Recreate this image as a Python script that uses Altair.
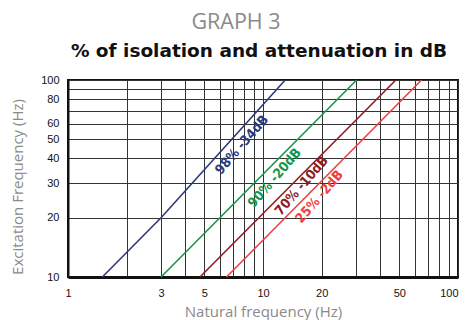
import altair as alt
import pandas as pd

# ---- data ----
series = ["98% -34dB", "90% -20dB", "70% -10dB", "25% -2dB"]
colors = ["#2B3A7C", "#14954C", "#8E1B1F", "#EF4040"]

nat_98 = [1.5, 3.0, 13.0]
exc_98 = [10, 20, 100]
nat_90 = [3.0, 30.2]
exc_90 = [10, 100]
nat_70 = [4.75, 48.0]
exc_70 = [10, 100]
nat_25 = [6.5, 65.0]
exc_25 = [10, 100]

label_nat = [7.8, 11.5, 15.8, 19.5]
label_exc = [46.8, 31.8, 29.0, 25.5]

x_grid = [1, 2, 3, 4, 5, 6, 7, 8, 9, 10, 20, 30, 40, 50, 60, 70, 80, 90, 100]
x_labels = [1, 3, 5, 10, 20, 50, 100]
y_grid = [10, 20, 30, 40, 50, 60, 70, 80, 90, 100]
y_labels = [10, 20, 30, 40, 50, 60, 80, 100]

title_text = "GRAPH 3"
subtitle_text = "% of isolation and attenuation in dB"

rows = []
for name, xs, ys in zip(series, [nat_98, nat_90, nat_70, nat_25], [exc_98, exc_90, exc_70, exc_25]):
    for i, (a, b) in enumerate(zip(xs, ys)):
        rows.append({"series": name, "nat": a, "exc": b, "order": i})
lines_df = pd.DataFrame(rows)
labels_df = pd.DataFrame({"series": series, "nat": label_nat, "exc": label_exc})

def in_list(vals):
    return "indexof([" + ",".join(str(v) for v in vals) + "], datum.value) >= 0 ? datum.label : ''"

xscale = alt.Scale(type="log", domain=[1, 100], nice=False)
yscale = alt.Scale(type="log", domain=[10, 100], nice=False)
cscale = alt.Scale(domain=series, range=colors)

x_enc = alt.X("nat:Q", scale=xscale, axis=alt.Axis(
    values=x_grid, labelExpr=in_list(x_labels), title="Natural frequency (Hz)",
    grid=True, gridColor="#333333", gridWidth=1, gridOpacity=1,
    ticks=False, labelPadding=10, labelFont="Liberation Sans", labelFontSize=11,
    labelColor="#111111", labelFlush=False,
    labelAlign={"expr": "datum.value >= 100 ? 'right' : 'center'"},
    domain=True, domainColor="#111111", domainWidth=3,
    titleFont="Open Sans", titleFontSize=15, titleFontWeight="normal", titleColor="#8a8a8a",
    titleBaseline="alphabetic", titleY=39, titleX=195, titleAlign="center",
))
y_enc = alt.Y("exc:Q", scale=yscale, axis=alt.Axis(
    values=y_grid, labelExpr=in_list(y_labels), title="Excitation Frequency (Hz)",
    grid=True, gridColor="#333333", gridWidth=1, gridOpacity=1,
    ticks=False, labelPadding=9, labelFont="Liberation Sans", labelFontSize=11,
    labelColor="#111111", labelFlush=False,
    domain=True, domainColor="#111111", domainWidth=2,
    titleFont="Open Sans", titleFontSize=15, titleFontWeight="normal", titleColor="#8a8a8a",
    titleAngle=-90, titleBaseline="alphabetic", titleAlign="center", titleX=-46, titleY=106.5,
))

lines = alt.Chart(lines_df).mark_line(strokeWidth=1.6).encode(
    x=x_enc, y=y_enc,
    color=alt.Color("series:N", scale=cscale, legend=None),
    order="order:Q",
)

texts = alt.Chart(labels_df).mark_text(
    font="DejaVu Sans Condensed", fontWeight="bold", fontSize=13.5, angle=311,
    align="center", baseline="middle",
).encode(
    x=alt.X("nat:Q", scale=xscale), y=alt.Y("exc:Q", scale=yscale),
    text="series:N",
    color=alt.Color("series:N", scale=cscale, legend=None),
)

head = alt.Chart(pd.DataFrame({"t": [title_text]})).mark_text(
    font="Open Sans", fontSize=21.5, color="#8a8a8a", align="center", baseline="alphabetic",
).encode(x=alt.value(168), y=alt.value(-51.5), text="t:N")

sub = alt.Chart(pd.DataFrame({"t": [subtitle_text]})).mark_text(
    font="DejaVu Sans", fontSize=18.5, fontWeight="bold", color="#111111",
    align="center", baseline="alphabetic",
).encode(x=alt.value(191), y=alt.value(-23), text="t:N")

chart = alt.layer(lines, texts, head, sub).properties(
    width=390, height=197,
    autosize=alt.AutoSizeParams(type="none"),
    padding={"left": 60, "top": 72, "right": 1, "bottom": 43},
).configure_view(stroke="#111111", strokeWidth=2)

chart.save("out.html", embed_options={"renderer": "svg", "actions": False})
